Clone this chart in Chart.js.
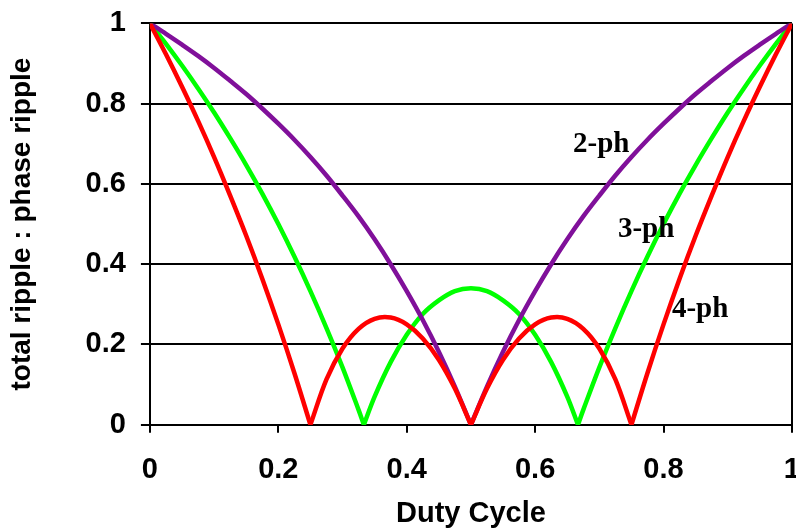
<!DOCTYPE html>
<html>
<head>
<meta charset="utf-8">
<script src="https://cdn.jsdelivr.net/npm/chart.js@4"></script>
<style>
html,body{margin:0;padding:0;background:#fff;overflow:hidden;width:796px;height:530px;}
#c{position:absolute;left:0;top:-9px;}
</style>
</head>
<body>
<canvas id="c" width="820" height="540"></canvas>
<script>
// Duty cycle sample points
const duty = [0,0.025,0.05,0.075,0.1,0.125,0.15,0.175,0.2,0.225,0.25,0.275,0.3,0.325,0.35,0.375,0.4,0.425,0.45,0.475,0.5,
              0.525,0.55,0.575,0.6,0.625,0.65,0.675,0.7,0.725,0.75,0.775,0.8,0.825,0.85,0.875,0.9,0.925,0.95,0.975,1];
// 2-phase ripple ratio
const ph2 = [1,0.974,0.947,0.919,0.889,0.857,0.824,0.788,0.75,0.71,0.667,0.621,0.571,0.519,0.462,0.4,0.333,0.261,0.182,0.095,0,
             0.095,0.182,0.261,0.333,0.4,0.462,0.519,0.571,0.621,0.667,0.71,0.75,0.788,0.824,0.857,0.889,0.919,0.947,0.974,1];
// 4-phase ripple ratio
const ph4 = [1,0.923,0.842,0.757,0.667,0.571,0.471,0.364,0.25,0.129,0,0.113,0.19,0.239,0.264,0.267,0.25,0.215,0.162,0.09,0,
             0.09,0.162,0.215,0.25,0.267,0.264,0.239,0.19,0.113,0,0.129,0.25,0.364,0.471,0.571,0.667,0.757,0.842,0.923,1];
// 3-phase ripple ratio (own duty points, includes the 1/3 and 2/3 nulls)
const duty3 = [0,0.025,0.05,0.075,0.1,0.125,0.15,0.175,0.2,0.225,0.25,0.275,0.3,0.325,0.3333,0.35,0.375,0.4,0.425,0.45,0.475,0.5,
               0.525,0.55,0.575,0.6,0.625,0.65,0.6667,0.675,0.7,0.725,0.75,0.775,0.8,0.825,0.85,0.875,0.9,0.925,0.95,0.975,1];
const ph3 = [1,0.949,0.895,0.838,0.778,0.714,0.647,0.576,0.5,0.419,0.333,0.241,0.143,0.037,0,0.07,0.156,0.224,0.276,0.31,0.333,0.34,
             0.333,0.31,0.276,0.224,0.156,0.07,0,0.037,0.143,0.241,0.333,0.419,0.5,0.576,0.647,0.714,0.778,0.838,0.895,0.949,1];
// duty values where each curve has a null (cusp)
const cusps2 = [0.5];
const cusps3 = [0.3333,0.6667];
const cusps4 = [0.25,0.5,0.75];
const tickVals = [0,0.2,0.4,0.6,0.8,1];
const tickLabels = ['0','0.2','0.4','0.6','0.8','1'];
// in-plot labels
const annText = ['2-ph','3-ph','4-ph'];
const annX = [0.659,0.729,0.813];
const annY = [0.679,0.468,0.269];

// split a curve into smooth pieces between cusps
function segments(xs, ys, cusps){
  const out = []; let cur = [];
  xs.forEach((x,i)=>{
    cur.push({x:x,y:ys[i]});
    if (cusps.some(c=>Math.abs(c-x)<1e-6)) { out.push(cur); cur = [{x:x,y:ys[i]}]; }
  });
  if (cur.length>1) out.push(cur);
  return out;
}
function fmt(v){
  const i = tickVals.findIndex(t=>Math.abs(t-v)<1e-6);
  return i>=0 ? tickLabels[i] : '';
}

const curves = [
  {name:'4-ph', xs:duty,  ys:ph4, cusps:cusps4, color:'#ff0000', order:0},
  {name:'2-ph', xs:duty,  ys:ph2, cusps:cusps2, color:'#80109a', order:1},
  {name:'3-ph', xs:duty3, ys:ph3, cusps:cusps3, color:'#00ff00', order:2}
];
const datasets = [];
curves.forEach(c=>{
  segments(c.xs, c.ys, c.cusps).forEach(seg=>{
    datasets.push({label:c.name, data:seg, borderColor:c.color, borderWidth:4.5, order:c.order, tension:0.35});
  });
});

Chart.defaults.color = '#000';

const annPlugin = {
  id:'ann',
  afterDatasetsDraw(chart){
    const ctx = chart.ctx, xs = chart.scales.x, ys = chart.scales.y;
    ctx.save();
    ctx.fillStyle = '#000';
    ctx.font = 'bold 29px "Liberation Serif", "Times New Roman", serif';
    ctx.textAlign = 'left';
    ctx.textBaseline = 'alphabetic';
    annText.forEach((t,i)=>{
      ctx.fillText(t, xs.getPixelForValue(annX[i]), ys.getPixelForValue(annY[i]));
    });
    ctx.restore();
  }
};

const sans = '"Liberation Sans", Arial, sans-serif';
const tickFont = {family:sans, size:29, weight:'bold'};

new Chart(document.getElementById('c'), {
  type:'line',
  data:{datasets:datasets},
  options:{
    responsive:false,
    animation:false,
    events:[],
    layout:{padding:0},
    elements:{
      point:{radius:0},
      line:{borderJoinStyle:'round', borderCapStyle:'round', fill:false}
    },
    plugins:{legend:{display:false}, tooltip:{enabled:false}},
    scales:{
      x:{
        type:'linear', min:0, max:1,
        afterBuildTicks(s){ s.ticks = tickVals.map(v=>({value:v})); },
        ticks:{callback:fmt, font:tickFont, padding:20, maxRotation:0, autoSkip:false, color:'#000'},
        grid:{
          color:(c)=> (c.tick && Math.abs(c.tick.value-1)<1e-6) ? '#000' : 'rgba(0,0,0,0)',
          lineWidth:2, tickColor:'#000', tickLength:8, tickWidth:2, drawOnChartArea:true
        },
        border:{display:true, color:'#000', width:2},
        title:{display:true, text:'Duty Cycle', font:{family:sans, size:29, weight:'bold', lineHeight:0.43}, padding:{top:0,bottom:11}, color:'#000'}
      },
      y:{
        type:'linear', min:0, max:1,
        afterBuildTicks(s){ s.ticks = tickVals.map(v=>({value:v})); },
        ticks:{callback:fmt, font:tickFont, padding:15, color:'#000'},
        grid:{color:'#000', lineWidth:2, tickColor:'#000', tickLength:9, tickWidth:2},
        border:{display:true, color:'#000', width:2},
        title:{display:true, text:'total ripple : phase ripple', font:{family:sans, size:28, weight:'bold'}, padding:{top:5,bottom:32}, color:'#000'}
      }
    }
  },
  plugins:[annPlugin]
});
</script>
</body>
</html>
